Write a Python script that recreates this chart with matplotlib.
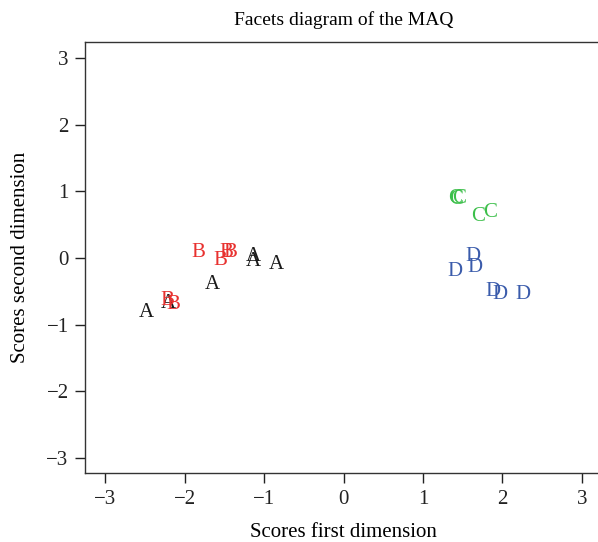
import matplotlib
matplotlib.use("Agg")
import matplotlib.pyplot as plt

# scores, one list per facet
a_x = [-2.48, -2.21, -1.65, -1.14, -1.13, -0.84]
a_y = [-0.81, -0.68, -0.39, 0.03, -0.05, -0.09]

b_x = [-1.83, -1.55, -1.47, -1.42, -2.22, -2.14]
b_y = [0.08, -0.03, 0.09, 0.09, -0.63, -0.70]

c_x = [1.40, 1.42, 1.45, 1.69, 1.84]
c_y = [0.89, 0.88, 0.90, 0.63, 0.68]

d_x = [1.63, 1.65, 1.40, 1.88, 1.97, 2.26]
d_y = [0.03, -0.14, -0.20, -0.50, -0.54, -0.54]

ticks = [-3, -2, -1, 0, 1, 2, 3]

plt.rcParams['font.family'] = ['Liberation Serif', 'DejaVu Serif']
plt.rcParams['axes.unicode_minus'] = True

fig = plt.figure(figsize=(5.98, 5.42), dpi=100)
ax = fig.add_axes([0.1426, 0.1268, 0.8634, 0.7966])

groups = [
    ('A', a_x, a_y, '#1a1a1a'),
    ('B', b_x, b_y, '#e8312f'),
    ('C', c_x, c_y, '#3cbf4a'),
    ('D', d_x, d_y, '#3a5bab'),
]
for lab, xs, ys, col in groups:
    for x, y in zip(xs, ys):
        ax.text(x, y, lab, color=col, fontsize=15, ha='center', va='center')

ax.set_xlim(-3.252, 3.25)
ax.set_ylim(-3.23, 3.25)
ax.set_xticks(ticks)
ax.set_yticks(ticks)
ax.set_xticklabels(['\u2212' + str(-t) if t < 0 else str(t) for t in ticks])
ax.set_yticklabels(['\u2212' + str(-t) if t < 0 else str(t) for t in ticks])
ax.tick_params(direction='out', length=7, width=1, labelsize=15, colors='#222222', pad=5)
for s in ax.spines.values():
    s.set_color('#333333')
    s.set_linewidth(1.0)

ax.set_title('Facets diagram of the MAQ', fontsize=14, pad=12)
ax.set_xlabel('Scores first dimension', fontsize=15, labelpad=10)
ax.set_ylabel('Scores second dimension', fontsize=15, labelpad=12)

fig.savefig('out.png', dpi=100)
